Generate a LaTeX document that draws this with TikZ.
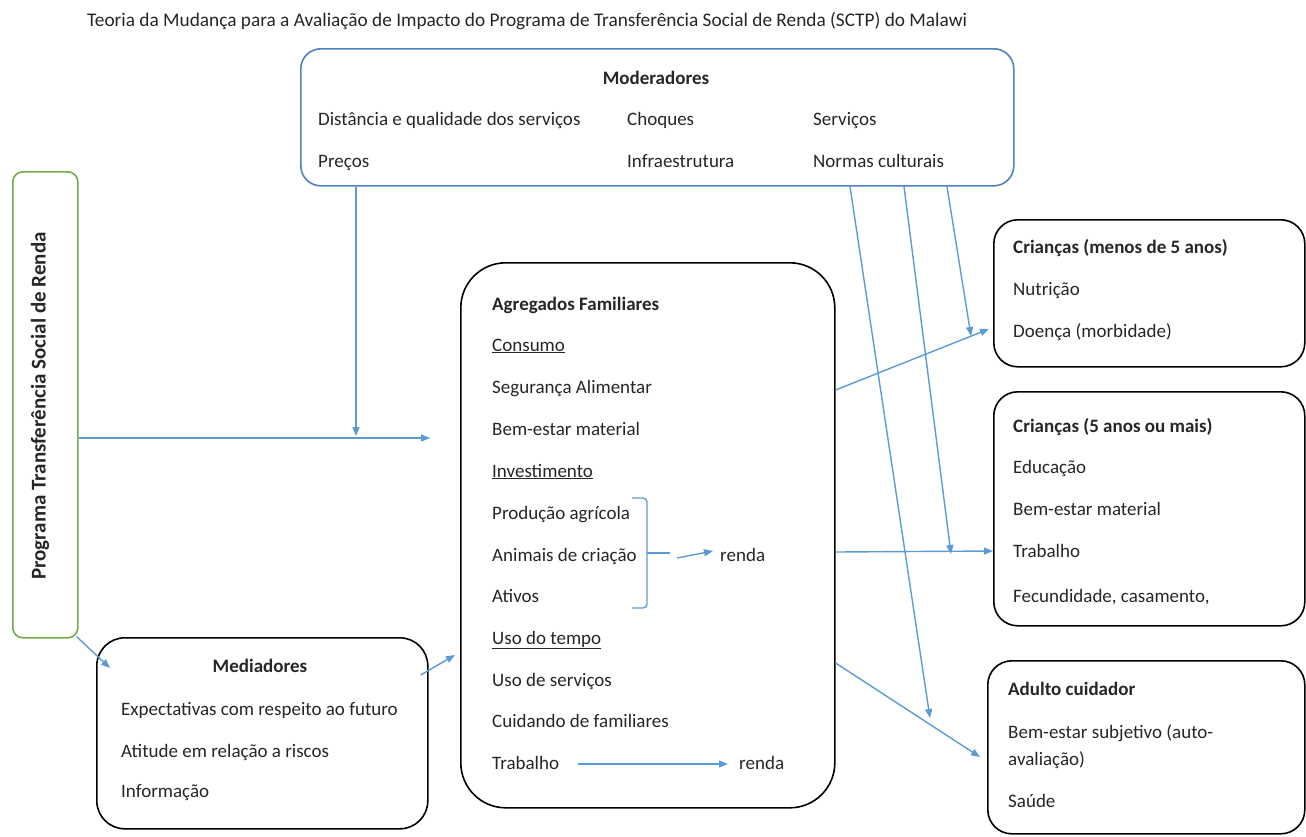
\documentclass[tikz,border=0pt]{standalone}
\usepackage{fontspec}
\setmainfont{Carlito}
\usetikzlibrary{arrows.meta,calc}
\definecolor{arrowblue}{HTML}{5B9BD5}
\definecolor{modblue}{HTML}{4F81BD}
\definecolor{progreen}{HTML}{70AD47}
\definecolor{txtgray}{HTML}{262626}
\begin{document}
\begin{tikzpicture}[x=1pt,y=-1pt,
  txt/.style={anchor=base west,inner sep=0pt,font=\fontsize{19}{22}\selectfont,text=txtgray},
  btxt/.style={txt,font=\fontsize{19}{22}\selectfont\bfseries},
  boxline/.style={draw=black,line width=1.6pt,inner sep=0pt,anchor=north west},
  conn/.style={draw=arrowblue,line width=1.4pt,-{Triangle[length=9pt,width=7pt]}}
]
\useasboundingbox (0,0) rectangle (1306,836);

% title
\node[txt,font=\fontsize{19.3}{22}\selectfont] (title) at (87,26) {Teoria da Mudança para a Avaliação de Impacto do Programa de Transferência Social de Renda (SCTP) do Malawi};

% boxes
\node[boxline,draw=modblue,rounded corners=20pt,minimum width=713pt,minimum height=137pt] (mod) at (300,48) {};
\node[boxline,draw=progreen,rounded corners=10pt,minimum width=65pt,minimum height=466pt] (prog) at (12,171) {};
\node[boxline,rounded corners=45pt,minimum width=374pt,minimum height=545pt] (hh) at (460,262) {};
\node[boxline,rounded corners=28pt,minimum width=331pt,minimum height=191pt] (med) at (96,637) {};
\node[boxline,rounded corners=24pt,minimum width=311pt,minimum height=147pt] (c1) at (993,219) {};
\node[boxline,rounded corners=24pt,minimum width=311pt,minimum height=234pt] (c2) at (993,391) {};
\node[boxline,rounded corners=24pt,minimum width=317pt,minimum height=173pt] (ad) at (987,660) {};

% moderadores text
\node[btxt,anchor=base] (modt) at (656,84) {Moderadores};
\node[txt] (m1) at (318,125) {Distância e qualidade dos serviços};
\node[txt] (m2) at (627,125) {Choques};
\node[txt] (m3) at (813,125) {Serviços};
\node[txt] (m4) at (318,167) {Preços};
\node[txt] (m5) at (627,167) {Infraestrutura};
\node[txt] (m6) at (813,167) {Normas culturais};

% programa
\node[rotate=90,inner sep=0pt,font=\fontsize{21}{24}\selectfont\bfseries,text=txtgray] (progt) at (40,406) {Programa Transferência Social de Renda};

% agregados
\node[btxt] (h0) at (492,310) {Agregados Familiares};
\node[txt] (h1) at (492,351) {\underline{Consumo}};
\node[txt] (h2) at (492,393) {Segurança Alimentar};
\node[txt] (h3) at (492,435) {Bem-estar material};
\node[txt] (h4) at (492,477) {\underline{Investimento}};
\node[txt] (h5) at (492,519) {Produção agrícola};
\node[txt] (h6) at (492,561) {Animais de criação};
\node[txt] (h7) at (492,602) {Ativos};
\node[txt] (h8) at (492,644) {\underline{Uso do tempo}};
\node[txt] (h9) at (492,686) {Uso de serviços};
\node[txt] (h10) at (492,727) {Cuidando de familiares};
\node[txt] (h11) at (492,769) {Trabalho};
\node[txt] (r1) at (720,561) {renda};
\node[txt] (r2) at (739,769) {renda};

% brace
\draw[arrowblue,line width=1.4pt,rounded corners=4pt] (632,498) -- (647,498) -- (647,608) -- (632,608);
\draw[arrowblue,line width=1.4pt] (647,553) -- (670,553);
\coordinate (bs) at (677,558);
\coordinate (be) at (713,551);
\draw[conn] (bs) -- (be);
\coordinate (ts) at (578,764);
\coordinate (te) at (728,764);
\draw[conn] (ts) -- (te);

% mediadores
\node[btxt,anchor=base] (medt) at (260,672) {Mediadores};
\node[txt] (e1) at (121,715) {Expectativas com respeito ao futuro};
\node[txt] (e2) at (121,757) {Atitude em relação a riscos};
\node[txt] (e3) at (121,797) {Informação};

% children < 5
\node[btxt] (a0) at (1013,253) {Crianças (menos de 5 anos)};
\node[txt] (a1) at (1013,295) {Nutrição};
\node[txt] (a2) at (1013,337) {Doença (morbidade)};
% children >= 5
\node[btxt] (b0) at (1013,432) {Crianças (5 anos ou mais)};
\node[txt] (b1) at (1013,473) {Educação};
\node[txt] (b2) at (1013,515) {Bem-estar material};
\node[txt] (b3) at (1013,557) {Trabalho};
\node[txt] (b4) at (1013,602) {Fecundidade, casamento,};
% adult
\node[btxt] (d0) at (1008,695) {Adulto cuidador};
\node[txt] (d1) at (1008,738) {Bem-estar subjetivo (auto-};
\node[txt] (d2) at (1008,765) {avaliação)};
\node[txt] (d3) at (1008,807) {Saúde};

% connectors
\coordinate (hin) at (430,438);
\coordinate (modin) at (356,436);
\draw[conn] (prog.east |- hin) -- (hin);
\draw[conn] (mod.south -| modin) -- (modin);
\draw[conn] (prog.south east) ++(-2,-2) -- (110,668);
\draw[conn] (med.east |- 0,675) ++(-8,0) -- (455,655);
\draw[conn] (hh.east |- 0,390) -- (989,329);
\draw[conn] (hh.east |- 0,552) -- (c2.west |- 0,551);
\draw[conn] (hh.east |- 0,663) -- (980,757);
\coordinate (t1) at (930,718);
\coordinate (t2) at (951,554);
\coordinate (t3) at (971,336);
\draw[conn] (mod.south -| 850,0) -- (t1);
\draw[conn] (mod.south -| 904,0) -- (t2);
\draw[conn] (mod.south -| 947,0) -- (t3);
\end{tikzpicture}
\end{document}
